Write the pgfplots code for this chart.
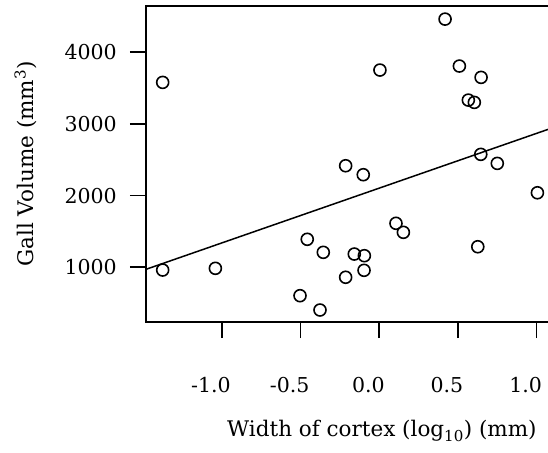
\documentclass[border=0pt]{standalone}
\usepackage{pgfplots}
\pgfplotsset{compat=1.18}
\usepackage{fontspec}
\setmainfont{DejaVu Serif}

% gall volume against cortex width
\pgfplotstableread{
x       y
-1.377  3580
-1.377   962
-1.042   986
-0.504   604
-0.377   404
-0.458  1391
-0.356  1209
-0.214  2417
-0.102  2292
-0.214   861
-0.159  1185
-0.095  1162
-0.097   958
 0.004  3752
 0.106  1614
 0.153  1488
 0.418  4463
 0.509  3808
 0.566  3333
 0.604  3301
 0.647  3650
 0.645  2576
 0.750  2450
 0.626  1287
 1.005  2040
}\galls

\newcommand\tickfont{\fontsize{20.5bp}{24bp}\selectfont}
\newcommand\labfont{\fontsize{21.5bp}{25bp}\selectfont}

\begin{document}
\begin{tikzpicture}
\begin{axis}[
  scale only axis,
  width=404bp, height=316bp,
  xmin=-1.483, xmax=1.085,
  ymin=237, ymax=4646,
  axis line style={line width=1.7bp},
  every tick/.style={line width=1.7bp, black},
  tick align=outside,
  major tick length=16bp,
  xtick pos=bottom, ytick pos=left,
  xtick={-1,-0.5,0,0.5,1},
  ytick={1000,2000,3000,4000},
  /pgf/number format/assume math mode=true,
  /pgf/number format/1000 sep={},
  xticklabel style={/pgf/number format/fixed, /pgf/number format/fixed zerofill,
    /pgf/number format/precision=1,
    font=\tickfont, inner sep=0pt, anchor=base, yshift=-54bp, xshift=-11bp},
  yticklabel style={font=\tickfont, inner sep=0pt, anchor=east, xshift=-13bp},
  xlabel={Width of cortex (log\textsubscript{10}) (mm)},
  ylabel={Gall Volume (mm\textsuperscript{3})},
  xlabel style={font=\labfont, inner sep=0pt,
    at={(axis description cs:0.584,-0.3639)}, anchor=base},
  ylabel style={font=\labfont, inner sep=0pt,
    at={(axis description cs:-0.2797,0.5)}, anchor=base},
]
\coordinate (O) at (rel axis cs:0,0);
\addplot[only marks, mark=o, mark size=6bp, line width=1.6bp, black]
  table[x=x, y=y] {\galls};
\addplot[line width=1.5bp, black] coordinates {(-1.483,972) (1.085,2934)};
\end{axis}
\pgfresetboundingbox
\path[use as bounding box] ([shift={(-146bp,-131bp)}]O) rectangle ++(548bp,453bp);
\end{tikzpicture}
\end{document}
